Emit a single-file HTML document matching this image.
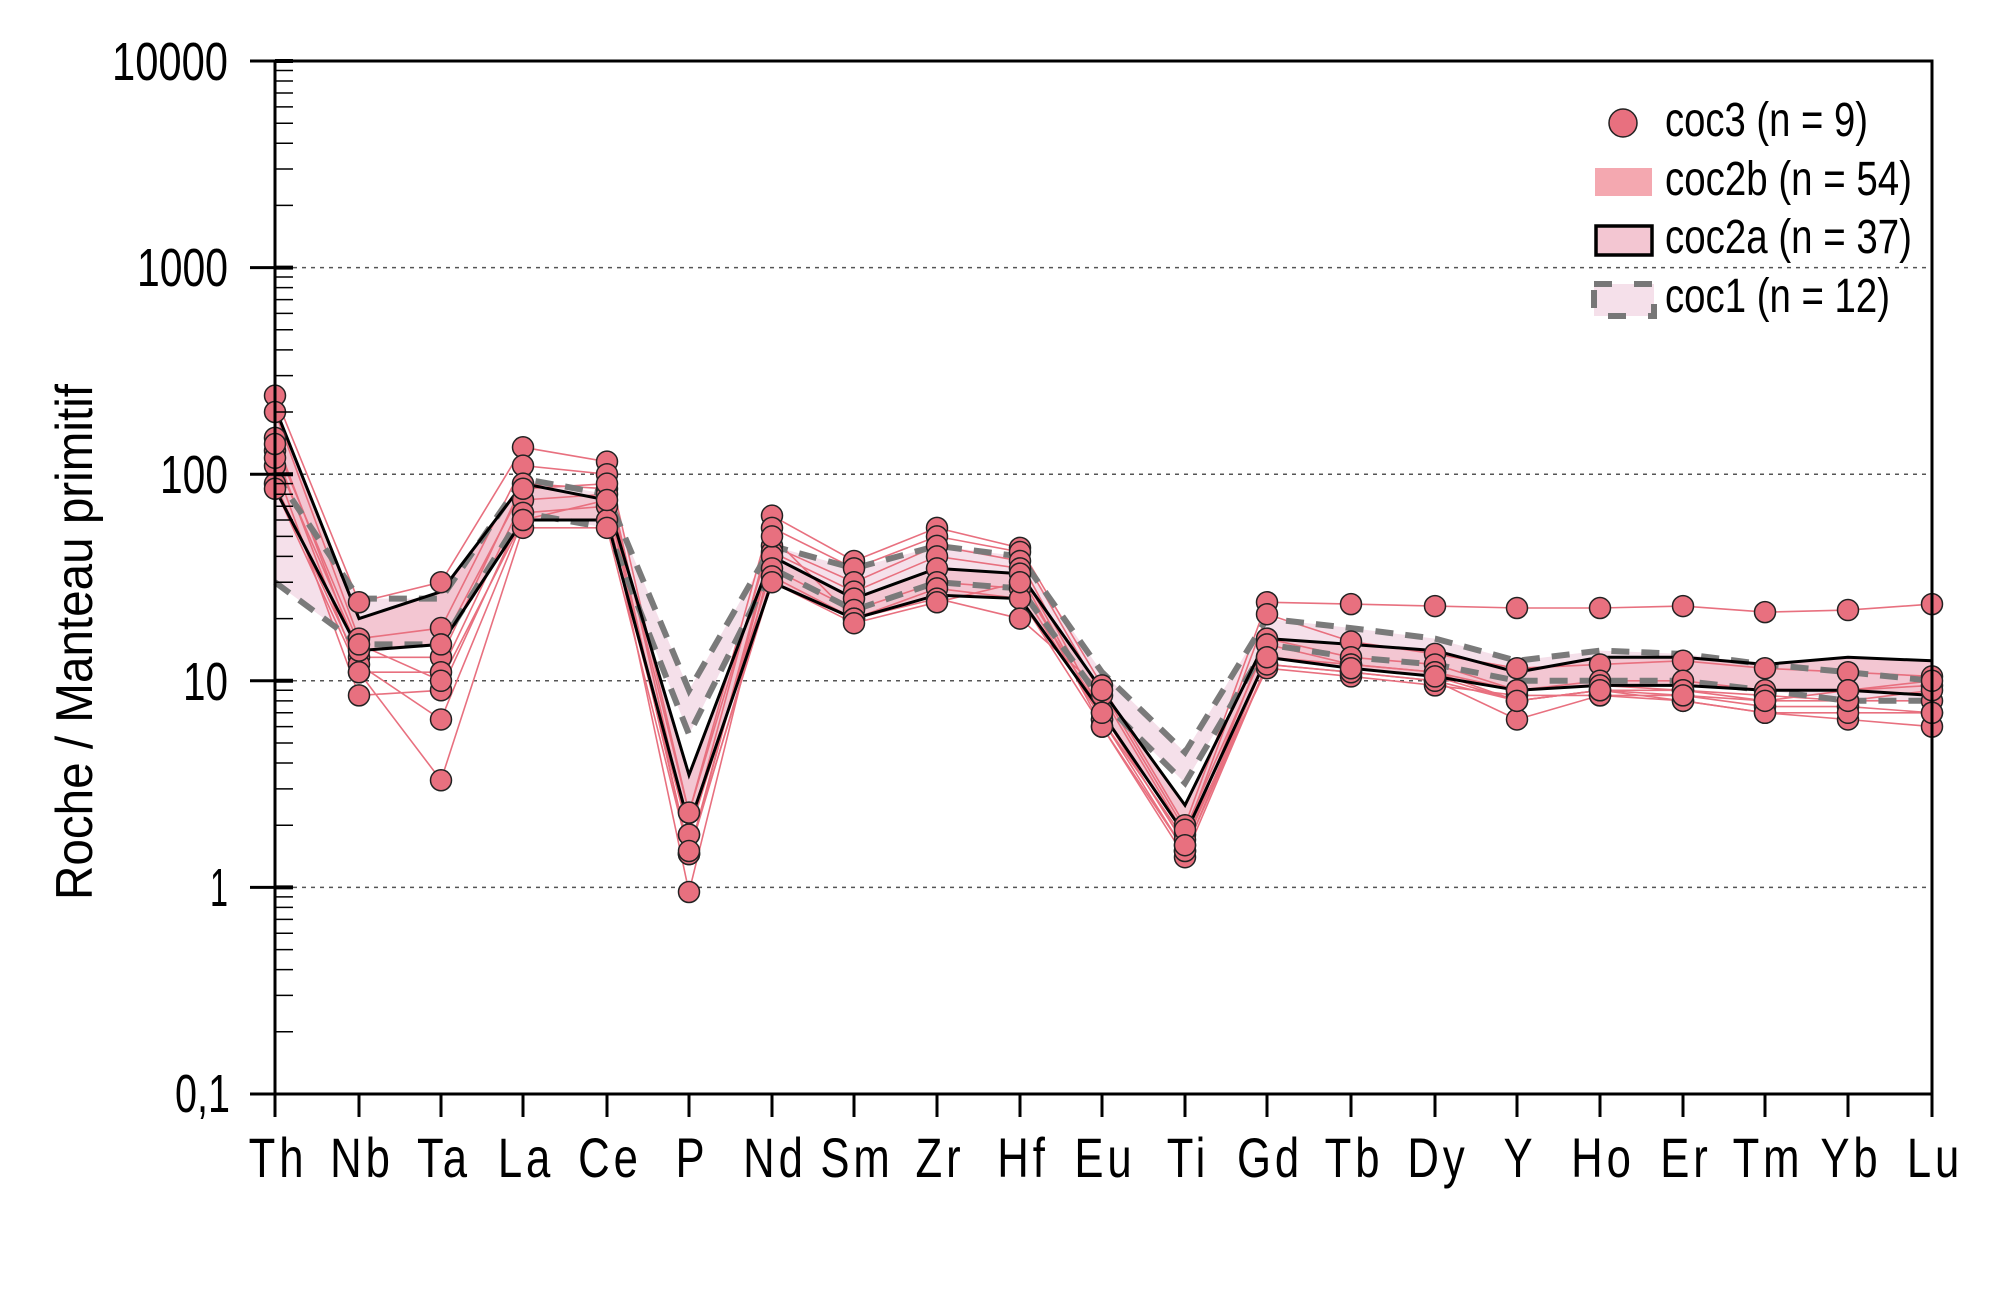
<!DOCTYPE html>
<html><head><meta charset="utf-8">
<style>
html,body{margin:0;padding:0;background:#fff;}
svg{display:block;}
text{font-family:"Liberation Sans",sans-serif;fill:#000;}
</style></head>
<body>
<svg id="s" width="2000" height="1295" viewBox="0 0 2000 1295" xmlns="http://www.w3.org/2000/svg">
<g id="grid" stroke="#555" stroke-width="1.5" stroke-dasharray="4,5">
<line x1="275" y1="267.6" x2="1932" y2="267.6"/>
<line x1="275" y1="474.2" x2="1932" y2="474.2"/>
<line x1="275" y1="680.8" x2="1932" y2="680.8"/>
<line x1="275" y1="887.4" x2="1932" y2="887.4"/>
</g>
<g id="data"></g>
<g id="axes" stroke="#000" fill="none"></g>
<g font-size="54">
<text x="112" y="80" textLength="116" lengthAdjust="spacingAndGlyphs">10000</text>
<text x="137" y="286" textLength="91" lengthAdjust="spacingAndGlyphs">1000</text>
<text x="160" y="493" textLength="68" lengthAdjust="spacingAndGlyphs">100</text>
<text x="183" y="700" textLength="45" lengthAdjust="spacingAndGlyphs">10</text>
<text x="210" y="906" textLength="18" lengthAdjust="spacingAndGlyphs">1</text>
<text x="175" y="1112" textLength="55" lengthAdjust="spacingAndGlyphs">0,1</text>
</g>
<text transform="translate(92,642) rotate(-90)" font-size="52" text-anchor="middle" textLength="516" lengthAdjust="spacingAndGlyphs">Roche / Manteau primitif</text>
<g font-size="56" text-anchor="middle" letter-spacing="5">
<text transform="translate(278,1177) scale(0.78,1)">Th</text>
<text transform="translate(362,1177) scale(0.78,1)">Nb</text>
<text transform="translate(444,1177) scale(0.78,1)">Ta</text>
<text transform="translate(526,1177) scale(0.78,1)">La</text>
<text transform="translate(610,1177) scale(0.78,1)">Ce</text>
<text transform="translate(692,1177) scale(0.78,1)">P</text>
<text transform="translate(775,1177) scale(0.78,1)">Nd</text>
<text transform="translate(857,1177) scale(0.78,1)">Sm</text>
<text transform="translate(940,1177) scale(0.78,1)">Zr</text>
<text transform="translate(1023,1177) scale(0.78,1)">Hf</text>
<text transform="translate(1105,1177) scale(0.78,1)">Eu</text>
<text transform="translate(1188,1177) scale(0.78,1)">Ti</text>
<text transform="translate(1270,1177) scale(0.78,1)">Gd</text>
<text transform="translate(1354,1177) scale(0.78,1)">Tb</text>
<text transform="translate(1438,1177) scale(0.78,1)">Dy</text>
<text transform="translate(1520,1177) scale(0.78,1)">Y</text>
<text transform="translate(1603,1177) scale(0.78,1)">Ho</text>
<text transform="translate(1686,1177) scale(0.78,1)">Er</text>
<text transform="translate(1768,1177) scale(0.78,1)">Tm</text>
<text transform="translate(1851,1177) scale(0.78,1)">Yb</text>
<text transform="translate(1935,1177) scale(0.78,1)">Lu</text>
</g>
<!-- legend -->
<circle cx="1623" cy="123" r="14" fill="#e8707f" stroke="#222" stroke-width="1.5"/>
<rect x="1595" y="168" width="57" height="28" fill="#f4a8b0"/>
<rect x="1596" y="226" width="56" height="29" fill="#f3c6d2" stroke="#000" stroke-width="3.5"/>
<rect x="1594" y="284" width="60" height="32" fill="#f5e0ea" stroke="#777" stroke-width="6" stroke-dasharray="18,22"/>
<g font-size="48">
<text x="1665" y="136" textLength="203" lengthAdjust="spacingAndGlyphs">coc3 (n = 9)</text>
<text x="1665" y="195" textLength="247" lengthAdjust="spacingAndGlyphs">coc2b (n = 54)</text>
<text x="1665" y="253" textLength="247" lengthAdjust="spacingAndGlyphs">coc2a (n = 37)</text>
<text x="1665" y="312" textLength="225" lengthAdjust="spacingAndGlyphs">coc1 (n = 12)</text>
</g>
</svg>
<script>
var X=[275,359,441,523,607,689,772,854,937,1020,1102,1185,1267,1351,1435,1517,1600,1683,1765,1848,1932];
function Y(v){return 61+(4-Math.log10(v))*206.6;}
function pts(a){return a.map(function(v,i){return X[i]+","+Y(v).toFixed(1)}).join(" ");}
var ns="http://www.w3.org/2000/svg";
function el(p,t,at){var e=document.createElementNS(ns,t);for(var k in at)e.setAttribute(k,at[k]);p.appendChild(e);return e;}
var d=document.getElementById("data");
var c1u=[100,25,25,95,80,9,45,35,45,40,11,4.5,20,18,16,12.5,14,13.5,12,11,10];
var c1l=[30,15,15,65,55,5.5,35,22,30,28,8,3.2,15,13,12,10,10,10,9,8,8];
var c2u=[210,20,27,90,75,3.5,40,25,35,33,9,2.5,16,15,14,11,13,13,12,13,12.5];
var c2l=[85,14,15,60,60,2,30,20,26,25,7,1.8,13,11.5,10.5,9,9.5,9.5,9,9,8.5];
function poly(u,l,fill){var s=u.map(function(v,i){return X[i]+","+Y(v)});for(var i=l.length-1;i>=0;i--)s.push(X[i]+","+Y(l[i]));el(d,"polygon",{points:s.join(" "),fill:fill});}
poly(c1u,c1l,"#f5e0ea");
poly(c2u,c2l,"#f3c6d2");
var S=[
[240,24,30,135,115,2.3,63,38,55,44,9.5,2.0,24,23.5,23,22.5,22.5,23,21.5,22,23.5],
[200,16,18,110,100,1.8,55,35,50,42,8.5,1.8,21,15.5,13.5,11.5,12,12.5,11.5,11,10.5],
[150,13,13,90,85,1.45,45,30,45,38,7,1.6,16,13,12,9,10,10,9,9,9.5],
[130,11,11,75,80,1.45,42,27,40,35,6.5,1.5,13,12,11,8,9,9,8,8,8],
[110,8.5,9,65,70,0.95,40,25,35,33,6,1.4,12,11,10,6.5,8.5,8,7,6.5,6],
[90,12,6.5,60,60,1.8,35,22,30,28,6.5,1.7,11.5,10.5,9.5,8.5,8.5,8.5,7.5,7.5,7],
[85,11,3.3,55,55,1.45,32,20,28,25,6,1.5,12,11,10,8,9,8,7,7,7],
[120,14,15,85,90,2.3,50,20,25,20,9,1.9,15,12,11,9,9.5,9,8.5,8,9],
[140,15,10,60,75,1.5,30,19,24,30,7,1.6,13,11.5,10.5,8,9,8.5,8,9,10]];
S.forEach(function(s){el(d,"polyline",{points:pts(s),fill:"none",stroke:"#e8707f","stroke-width":1.6});});
el(d,"polyline",{points:pts(c1u),fill:"none",stroke:"#7a7a7a","stroke-width":6,"stroke-dasharray":"18,12"});
el(d,"polyline",{points:pts(c1l),fill:"none",stroke:"#7a7a7a","stroke-width":6,"stroke-dasharray":"18,12"});
el(d,"polyline",{points:pts(c2u),fill:"none",stroke:"#000","stroke-width":3});
el(d,"polyline",{points:pts(c2l),fill:"none",stroke:"#000","stroke-width":3});
S.forEach(function(s){s.forEach(function(v,i){el(d,"circle",{cx:X[i],cy:Y(v),r:10.5,fill:"#e8707f",stroke:"#222","stroke-width":1.5});});});
var a=document.getElementById("axes");
el(a,"rect",{x:275,y:61,width:1657,height:1033,"stroke-width":3});
for(var k=0;k<5;k++){var y0=61+k*206.6;el(a,"line",{x1:250,y1:y0,x2:275,y2:y0,"stroke-width":3});el(a,"line",{x1:275,y1:y0,x2:293,y2:y0,"stroke-width":4});
 for(var m=2;m<=9;m++){var yy=y0+Math.log10(10/m)*206.6;el(a,"line",{x1:275,y1:yy,x2:293,y2:yy,"stroke-width":1.5});}}
el(a,"line",{x1:250,y1:1094,x2:275,y2:1094,"stroke-width":3});
X.forEach(function(x){el(a,"line",{x1:x,y1:1094,x2:x,y2:1117,"stroke-width":3});});
</script>
</body></html>
